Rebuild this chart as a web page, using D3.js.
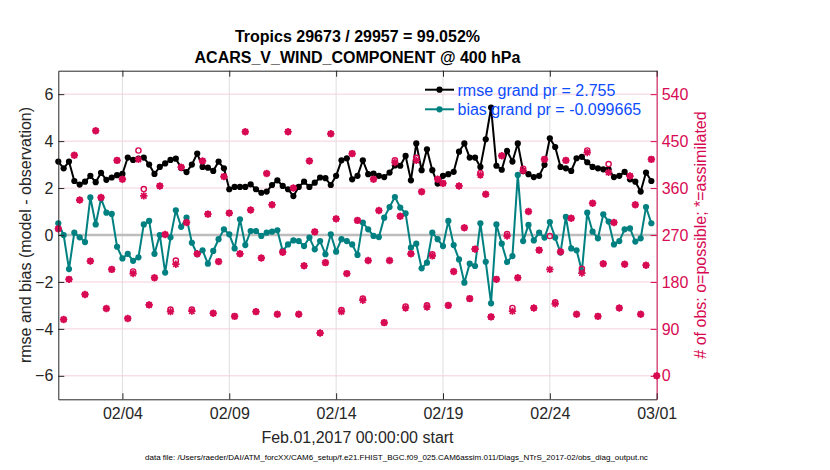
<!DOCTYPE html>
<html><head><meta charset="utf-8">
<script src="https://cdn.jsdelivr.net/npm/d3@7"></script>
<style>
body{margin:0;background:#fff}
svg{display:block}
text{font-family:"Liberation Sans",Arial,Helvetica,sans-serif}
</style>
</head><body>
<svg id="chart" width="830" height="470"></svg>
<script>
// ---------------- data ----------------
const titleLine1 = "Tropics 29673 / 29957 = 99.052%";
const titleLine2 = "ACARS_V_WIND_COMPONENT @ 400 hPa";
const leftLabel = "rmse and bias (model - observation)";
const rightLabel = "# of obs: o=possible; *=assimilated";
const xLabel = "Feb.01,2017 00:00:00 start";
const fileNote = "data file: /Users/raeder/DAI/ATM_forcXX/CAM6_setup/f.e21.FHIST_BGC.f09_025.CAM6assim.011/Diags_NTrS_2017-02/obs_diag_output.nc";
const legendLabels = ["rmse grand pr = 2.755", "bias grand pr = -0.099665"];

const startTime = "2017-02-01T00:00:00Z";
const endTime = "2017-03-01T00:00:00Z";
const stepHours = 6;   // analysis interval

const xTickLabels = ["02/04", "02/09", "02/14", "02/19", "02/24", "03/01"];
const leftTicks = [-6, -4, -2, 0, 2, 4, 6];
const rightTicks = [0, 90, 180, 270, 360, 450, 540];

const rmse = [
 3.13,2.84,3.13,2.30,2.15,2.27,2.52,2.25,2.65,2.35,2.45,2.55,
 2.60,3.30,3.20,3.25,3.30,3.00,2.60,2.90,3.05,3.20,3.25,2.85,
 2.68,3.00,3.47,2.90,2.87,2.73,3.13,2.84,1.95,2.05,2.05,2.05,
 2.16,1.95,1.80,1.85,2.13,2.33,2.09,1.95,1.66,2.05,2.27,2.05,
 2.23,2.45,2.42,2.13,2.52,3.18,3.27,2.37,2.52,3.18,2.59,2.62,
 2.52,2.47,2.66,2.96,2.95,3.37,2.33,3.90,2.76,3.65,2.76,2.19,
 2.52,2.59,2.69,3.55,3.90,3.30,3.30,2.90,4.08,5.43,2.95,2.78,
 3.58,3.13,3.90,2.73,2.59,2.47,2.52,2.99,4.12,3.75,2.90,2.84,
 2.73,3.27,3.33,3.10,2.90,2.84,2.80,2.80,2.47,2.52,2.69,2.37,
 2.27,1.85,2.66,2.30
];
const bias = [
 0.50,0.00,-1.45,0.10,-0.10,-0.30,1.60,0.45,1.55,0.95,0.90,-0.50,
 -1.00,-0.80,-1.10,-0.95,0.45,0.60,-0.80,0.00,-1.60,-0.10,1.05,0.35,
 0.74,-0.33,-0.82,-0.65,-1.22,-0.68,-0.18,0.24,0.03,-0.57,0.67,-0.43,
 0.17,0.17,-0.04,0.10,0.14,0.20,-0.68,-0.40,-0.23,-0.26,-0.47,-0.11,
 -0.61,-0.26,-0.82,0.03,-0.71,-0.18,-0.26,-0.40,-0.85,0.53,0.24,-0.04,
 -0.09,0.74,1.19,1.62,1.17,0.92,-0.54,-0.37,-1.42,-1.18,0.10,-0.18,
 -0.47,0.60,-0.43,-1.04,-2.03,-1.22,-1.32,0.50,-1.14,-2.91,0.45,-0.37,
 -1.15,-0.90,2.56,-0.26,0.43,-0.23,0.10,-0.11,0.55,-0.11,-0.75,0.77,
 -0.57,-0.65,-1.54,0.95,0.14,-0.14,0.88,0.57,-0.40,-0.26,0.24,0.28,
 -0.28,-0.14,1.19,0.50
];
const obsPossible = [
 282,108,185,423,337,156,220,470,342,129,
 204,413,377,110,200,432,358,136,188,364,
 271,127,221,400,294,127,234,412,310,120,
 219,382,312,114,234,468,318,123,226,388,
 328,118,237,468,360,118,211,412,276,82,
 217,464,301,126,196,426,298,148,221,377,
 317,102,221,413,306,133,234,418,353,135,
 233,377,369,135,200,364,284,148,243,389,
 348,113,185,422,272,130,188,397,315,130,
 241,415,268,141,238,413,302,118,205,432,
 331,114,215,406,294,130,214,383,328,118,
 212,415,0
];
const obsAssimilated = [
 282,108,185,423,337,156,220,470,342,129,
 204,413,377,110,196,415,345,136,188,364,
 271,123,214,400,294,124,234,412,310,120,
 219,382,312,114,234,468,318,123,226,388,
 328,118,237,468,360,118,211,412,276,82,
 217,464,301,123,196,426,298,145,221,377,
 317,102,221,409,306,130,234,413,353,132,
 230,377,369,135,200,364,284,148,243,385,
 348,113,185,422,268,124,188,393,315,130,
 241,415,204,138,238,413,302,118,197,428,
 331,114,215,390,294,130,214,383,328,118,
 212,415,0
];

// ---------------- layout / style ----------------
const plot = {left: 58.3, right: 656.7, top: 70.7, bottom: 399.3};
const crimson = "#d70a53", teal = "#008080", legendBlue = "#0d4dff";
const fileNoteSpan = [145, 649];

const svg = d3.select("#chart");
const t0 = new Date(startTime).getTime();
const timeAt = i => new Date(t0 + i * stepHours * 3600e3);

const x = d3.scaleUtc().domain([new Date(startTime), new Date(endTime)]).range([plot.left, plot.right]);
const yL = d3.scaleLinear().domain([-7, 7]).range([plot.bottom, plot.top]);
const yR = d3.scaleLinear().domain([-45, 585]).range([plot.bottom, plot.top]);
const parseTick = d3.utcParse("%Y/%m/%d");
const xTicks = xTickLabels.map(s => parseTick("2017/" + s));

// grids
const grid = svg.append("g");
grid.selectAll("line.v").data(xTicks).join("line")
  .attr("x1", d => x(d)).attr("x2", d => x(d))
  .attr("y1", plot.top).attr("y2", plot.bottom)
  .attr("stroke", "#dedede").attr("stroke-width", 1);
grid.selectAll("line.h").data(rightTicks).join("line")
  .attr("x1", plot.left).attr("x2", plot.right)
  .attr("y1", d => yR(d)).attr("y2", d => yR(d))
  .attr("stroke", "#f4d0dc").attr("stroke-width", 1);

// zero line
svg.append("line")
  .attr("x1", plot.left).attr("x2", plot.right)
  .attr("y1", yL(0)).attr("y2", yL(0))
  .attr("stroke", "#bdbdbd").attr("stroke-width", 2.5);

// series
function drawSeries(vals, color) {
  const pts = vals.map((v, i) => [timeAt(i), v]);
  svg.append("path").datum(pts)
    .attr("fill", "none").attr("stroke", color).attr("stroke-width", 2)
    .attr("stroke-linejoin", "round")
    .attr("d", d3.line().x(d => x(d[0])).y(d => yL(d[1])));
  svg.append("g").selectAll("circle").data(pts).join("circle")
    .attr("cx", d => x(d[0])).attr("cy", d => yL(d[1])).attr("r", 3.1)
    .attr("fill", color);
}
drawSeries(rmse, "#000");
drawSeries(bias, teal);

// obs count markers
const a = 3.7, b = a * 0.72;
const starPath = `M${-a},0H${a}M0,${-a}V${a}M${-b},${-b}L${b},${b}M${-b},${b}L${b},${-b}`;
const obsG = svg.append("g");
obsG.selectAll("path").data(obsAssimilated).join("path")
  .attr("transform", (d, i) => `translate(${x(timeAt(i))},${yR(d)})`)
  .attr("d", starPath).attr("stroke", crimson).attr("stroke-width", 1.7).attr("fill", "none");
obsG.selectAll("circle").data(obsPossible).join("circle")
  .attr("cx", (d, i) => x(timeAt(i))).attr("cy", d => yR(d)).attr("r", 2.6)
  .attr("stroke", crimson).attr("stroke-width", 1.4).attr("fill", "none");

// axes
const fs = "16px";
const axL = svg.append("g").attr("transform", `translate(${plot.left},0)`)
  .call(d3.axisLeft(yL).tickValues(leftTicks).tickSizeInner(-6).tickSizeOuter(0).tickPadding(5));
const axR = svg.append("g").attr("transform", `translate(${plot.right},0)`)
  .call(d3.axisRight(yR).tickValues(rightTicks).tickSizeInner(-6).tickSizeOuter(0).tickPadding(5));
const axB = svg.append("g").attr("transform", `translate(0,${plot.bottom})`)
  .call(d3.axisBottom(x).tickValues(xTicks).tickFormat(d3.utcFormat("%m/%d")).tickSizeInner(-6).tickSizeOuter(0).tickPadding(8));
const axT = svg.append("g").attr("transform", `translate(0,${plot.top})`)
  .call(d3.axisTop(x).tickValues(xTicks).tickFormat("").tickSizeInner(-6).tickSizeOuter(0));
[axL, axB, axT].forEach(g => {
  g.selectAll("text").attr("font-size", fs).attr("fill", "#262626")
    .attr("font-family", '"Liberation Sans",Arial,sans-serif');
  g.selectAll("line").attr("stroke", "#262626");
  g.select(".domain").attr("stroke", "#262626");
});
axR.selectAll("text").attr("font-size", fs).attr("fill", crimson)
  .attr("font-family", '"Liberation Sans",Arial,sans-serif');
axR.selectAll("line").attr("stroke", crimson);
axR.select(".domain").attr("stroke", crimson);

// titles & labels
const cx = (plot.left + plot.right) / 2, cy = (plot.top + plot.bottom) / 2;
svg.append("text").attr("x", cx).attr("y", 42)
  .attr("text-anchor", "middle").attr("font-size", "16px").attr("font-weight", "bold")
  .attr("fill", "#000").text(titleLine1);
svg.append("text").attr("x", cx).attr("y", 62.5)
  .attr("text-anchor", "middle").attr("font-size", "16px").attr("font-weight", "bold")
  .attr("fill", "#000").text(titleLine2);
svg.append("text").attr("transform", `translate(31,${cy}) rotate(-90)`)
  .attr("text-anchor", "middle").attr("font-size", "16px").attr("fill", "#262626").text(leftLabel);
svg.append("text").attr("transform", `translate(706,${cy}) rotate(-90)`)
  .attr("text-anchor", "middle").attr("font-size", "16px").attr("fill", crimson).text(rightLabel);
svg.append("text").attr("x", cx).attr("y", 442.5)
  .attr("text-anchor", "middle").attr("font-size", "16px").attr("fill", "#262626").text(xLabel);
const note = svg.append("text").attr("x", fileNoteSpan[0]).attr("y", 459.5)
  .attr("text-anchor", "start").attr("font-size", "8px").attr("fill", "#000").text(fileNote);
const noteLen = note.node().getComputedTextLength();
if (noteLen > 0) note.attr("font-size", (8 * (fileNoteSpan[1] - fileNoteSpan[0]) / noteLen).toFixed(2) + "px");

// legend
const legendColors = ["#000", teal];
const lg = svg.append("g");
legendLabels.forEach((lab, k) => {
  const yy = 89.7 + k * 19.6;
  lg.append("line").attr("x1", 425).attr("x2", 454).attr("y1", yy).attr("y2", yy)
    .attr("stroke", legendColors[k]).attr("stroke-width", 2);
  lg.append("circle").attr("cx", 439.5).attr("cy", yy).attr("r", 3.1).attr("fill", legendColors[k]);
  lg.append("text").attr("x", 457.5).attr("y", yy + 5.8).attr("font-size", "16px")
    .attr("fill", legendBlue).text(lab);
});
</script>
</body></html>
